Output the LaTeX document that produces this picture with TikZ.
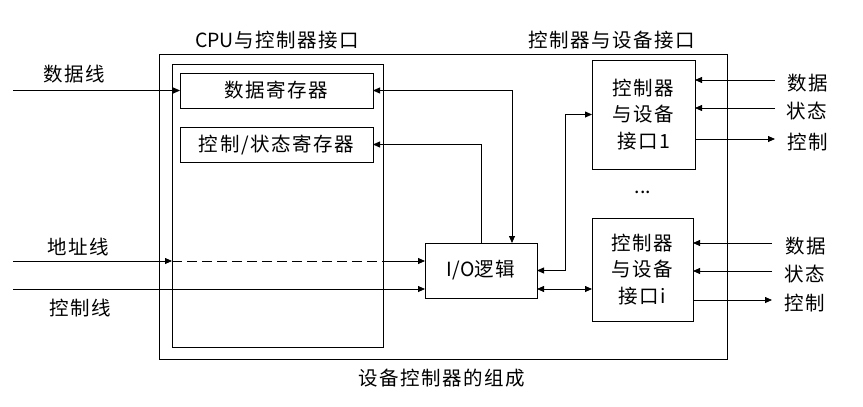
\documentclass[tikz,border=0pt]{standalone}
\usepackage{fontspec}
\setmainfont{Noto Sans CJK SC}[LetterSpace=8]
\newfontfamily\latn{Noto Sans CJK SC}
\usetikzlibrary{arrows.meta}
\begin{document}
\begin{tikzpicture}[x=1pt,y=-1pt, line width=0.8pt,
  >={Triangle[length=7pt,width=6pt]},
  font=\fontsize{19.5}{26.5}\selectfont,
  box/.style={draw, inner sep=0pt, outer sep=0pt, align=center},
  lab/.style={inner sep=0pt, outer sep=0pt, align=center}]
\useasboundingbox (0,0) rectangle (863,407);
% frames
\node[box, minimum width=568pt, minimum height=305pt] (outer) at (443,206.5) {};
\node[box, minimum width=211pt, minimum height=283pt] (cpu) at (277.5,205.5) {};
\node[box, minimum width=193pt, minimum height=35pt] (dreg) at (276.5,90.5) {数据寄存器};
\node[box, minimum width=193pt, minimum height=35pt] (creg) at (276.5,144.5) {控制/状态寄存器};
\node[box, minimum width=112pt, minimum height=55pt] (io) at (481,270.5) {{\latn I/O}逻辑};
\node[box, minimum width=103pt, minimum height=109pt] (ifa) at (643.5,114.5) {控制器\\与设备\\接口1};
\node[box, minimum width=101pt, minimum height=103pt] (ifb) at (642.5,269.5) {控制器\\与设备\\接口i};
\node[lab] (dots) at (643,192) {\latn ...};
% titles
\node[lab] (t1) at (277,40) {{\latn CPU}与控制器接口};
\node[lab] (t2) at (611.5,40) {控制器与设备接口};
\node[lab] (t3) at (441.5,378) {设备控制器的组成};
% left labels
\node[lab] (ldata) at (74.5,74) {数据线};
\node[lab] (laddr) at (78.5,247) {地址线};
\node[lab] (lctrl) at (80.5,308) {控制线};
\coordinate (dl) at (13,90.5);
\coordinate (al) at (13,261);
\coordinate (cl) at (13,289);
\draw[->] (dl) -- (dreg.west);
\draw[->] (al) -- (al -| cpu.west);
\draw[dash pattern=on 10pt off 5pt] (al -| cpu.west) -- (al -| cpu.east);
\draw[->] (al -| cpu.east) -- (al -| io.west);
\draw[->] (cl) -- (cl -| io.west);
% registers to I/O
\draw[<->] (dreg.east) -| ([xshift=-25pt]io.north east);
\draw[->] (io.north) |- (creg.east);
% I/O to interfaces
\draw[<->] (io.east) -- ++(28,0) |- (ifa.west);
\draw[<->] (io.east |- cl) -- (ifb.west |- cl);
% right side, interface 1
\coordinate (ra1) at (775,80);
\coordinate (ra2) at (775,108);
\coordinate (ra3) at (775,139);
\node[lab, anchor=west] (ra1t) at (787,83.5) {数据};
\node[lab, anchor=west] (ra2t) at (786,111.5) {状态};
\node[lab, anchor=west] (ra3t) at (787,142.5) {控制};
\draw[->] (ra1) -- (ra1 -| ifa.east);
\draw[->] (ra2) -- (ra2 -| ifa.east);
\draw[<-] (ra3) -- (ra3 -| ifa.east);
% right side, interface i
\coordinate (rb1) at (772,243);
\coordinate (rb2) at (772,271);
\coordinate (rb3) at (772,300);
\node[lab, anchor=west] (rb1t) at (785,246.5) {数据};
\node[lab, anchor=west] (rb2t) at (784,274.5) {状态};
\node[lab, anchor=west] (rb3t) at (784,303.5) {控制};
\draw[->] (rb1) -- (rb1 -| ifb.east);
\draw[->] (rb2) -- (rb2 -| ifb.east);
\draw[<-] (rb3) -- (rb3 -| ifb.east);
\end{tikzpicture}
\end{document}
